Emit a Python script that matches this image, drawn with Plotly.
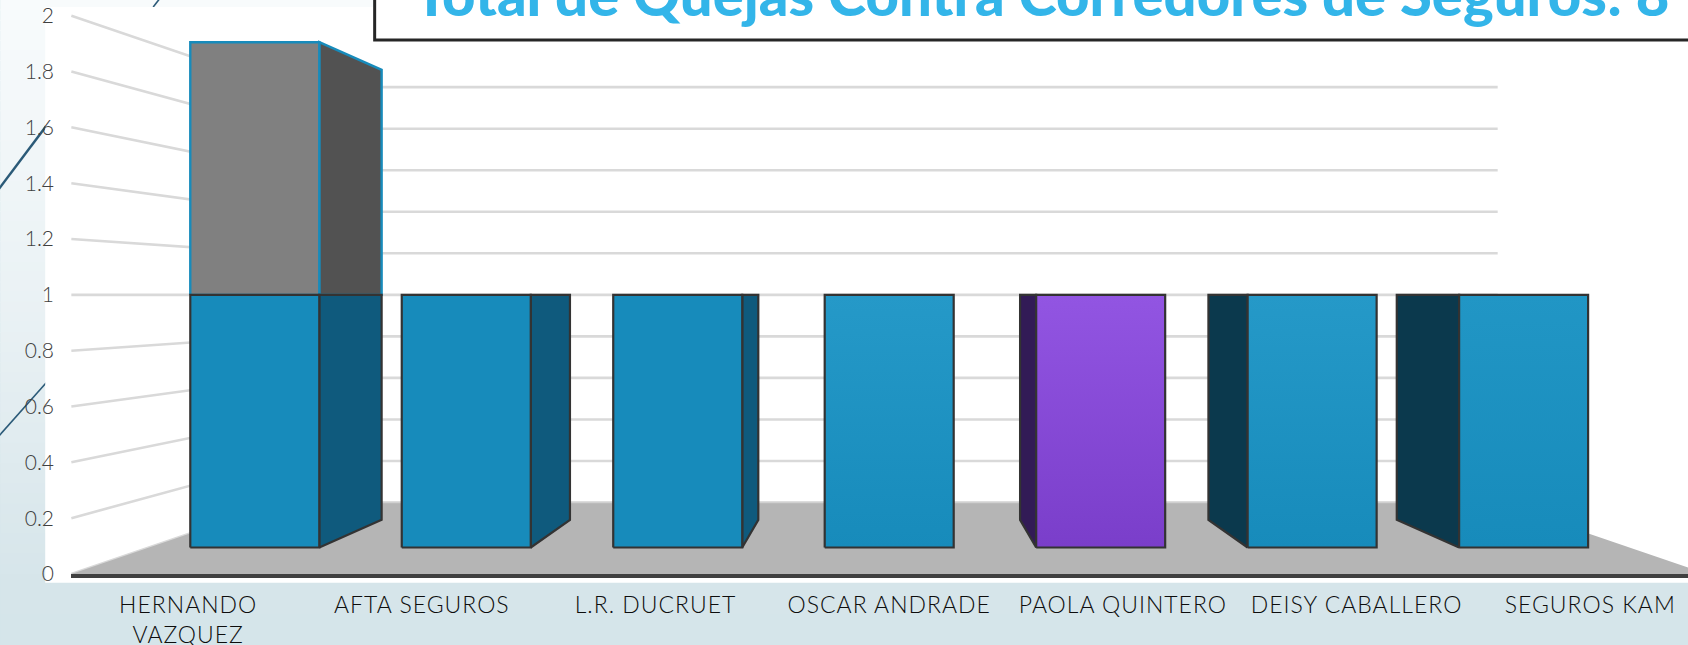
import plotly.graph_objects as go

# ---------- data ----------
categories = ["HERNANDO<br>VAZQUEZ", "AFTA SEGUROS", "L.R. DUCRUET", "OSCAR ANDRADE",
              "PAOLA QUINTERO", "DEISY CABALLERO", "SEGUROS KAM"]
quejas = [1, 1, 1, 1, 1, 1, 1]
quejas_extra = [1, 0, 0, 0, 0, 0, 0]
value_ticks = [0, 0.2, 0.4, 0.6, 0.8, 1, 1.2, 1.4, 1.6, 1.8, 2]
value_tick_labels = ["0", "0.2", "0.4", "0.6", "0.8", "1", "1.2", "1.4", "1.6", "1.8", "2"]
title_text = "Total de Quejas Contra Corredores de Seguros: 8"

# ---------- page / plot geometry ----------
W, H = 1688, 645
PLOT_L, PLOT_B_PX = 70.8, 574.3
PX_PER_CAT, PX_PER_VAL = 233.7, 279.3
CAT0_PX = 188.0
x_range = [(PLOT_L - CAT0_PX) / PX_PER_CAT, (W - CAT0_PX) / PX_PER_CAT]
y_range = [0, PLOT_B_PX / PX_PER_VAL]

# ---------- 3D projection onto the axis plane ----------
VP_X, VP_Y = 3.0, 1.0       # vanishing point (category, value)
S_WALL, S_FRONT, S_BACK = 0.744, 0.905, 0.806   # depth scale factors
HALF = 0.305                # half a bar, in category units
X_MIN, X_MAX = -0.5, 6.5


def proj(x, v, s):
    return VP_X + s * (x - VP_X), VP_Y + s * (v - VP_Y)


def poly(points):
    xs, ys = zip(*points)
    return list(xs) + [xs[0]], list(ys) + [ys[0]]


def face(points, fill, line, lw=2.0, grad=None):
    xs, ys = poly(points)
    tr = dict(x=xs, y=ys, mode="lines", fill="toself", hoverinfo="skip", showlegend=False,
              line=dict(color=line, width=lw))
    if grad:
        tr["fillgradient"] = dict(type="vertical", colorscale=[[0, grad[1]], [1, grad[0]]])
    else:
        tr["fillcolor"] = fill
    return go.Scatter(**tr)


fig = go.Figure()

# side wall + back wall gridlines
for v in value_ticks:
    pts = [proj(X_MIN, v, 1), proj(X_MIN, v, S_WALL), proj(X_MAX, v, S_WALL)]
    if v == 1:
        pts = [proj(X_MIN, v, 1), proj(X_MAX, v, S_WALL)]
    xs, ys = zip(*pts)
    fig.add_trace(go.Scatter(x=xs, y=ys, mode="lines", hoverinfo="skip", showlegend=False,
                             line=dict(color="#D9D9D9", width=2.6)))

# floor
fig.add_trace(face([proj(X_MIN, 0, 1), proj(X_MIN, 0, S_WALL), proj(X_MAX, 0, S_WALL), proj(X_MAX, 0, 1)],
                   "#B5B5B5", "rgba(0,0,0,0)", 0))
xs, ys = zip(proj(X_MIN, 0, S_WALL), proj(X_MAX, 0, S_WALL))
fig.add_trace(go.Scatter(x=xs, y=ys, mode="lines", hoverinfo="skip", showlegend=False,
                         line=dict(color="#D0D0D0", width=1.5)))

BLUE = "#178BBB"
front_grad = [None, None, None, ("#2599C8", "#178BBB"), ("#9255E2", "#7A3ECA"),
              ("#2599C8", "#178BBB"), ("#2196C5", "#178BBB")]
front_col = [BLUE, BLUE, BLUE, BLUE, "#8549D6", BLUE, BLUE]
side_col = ["#0F5A7D", "#0F5A7D", "#0F5A7D", None, "#321B56", "#0B394D", "#0B394D"]


def draw_block(i, v0, v1, front, side, line, lw=2.0, grad=None):
    left, right = i - HALF, i + HALF
    if right < VP_X:
        fig.add_trace(face([proj(right, v0, S_FRONT), proj(right, v0, S_BACK),
                            proj(right, v1, S_BACK), proj(right, v1, S_FRONT)], side, line, lw))
    elif left > VP_X:
        fig.add_trace(face([proj(left, v0, S_FRONT), proj(left, v0, S_BACK),
                            proj(left, v1, S_BACK), proj(left, v1, S_FRONT)], side, line, lw))
    fig.add_trace(face([proj(left, v0, S_FRONT), proj(right, v0, S_FRONT),
                        proj(right, v1, S_FRONT), proj(left, v1, S_FRONT)], front, line, lw, grad))


for i, (a, b) in enumerate(zip(quejas, quejas_extra)):
    if b:
        draw_block(i, a, a + b, "#808080", "#525252", "#178BBB", 2.4)
    draw_block(i, 0, a, front_col[i], side_col[i], "#333333", 2.2, front_grad[i])

# ---------- background shapes ----------
shapes = []


def px_x(p):
    return (p - PLOT_L) / (W - PLOT_L)


def px_y(p):
    return (PLOT_B_PX - p) / PLOT_B_PX


bg_stops = [(0, (248, 251, 252)), (320, (233, 241, 244)), (585, (214, 229, 234)), (645, (213, 229, 234))]


def bg_at(y):
    for (y0, c0), (y1, c1) in zip(bg_stops, bg_stops[1:]):
        if y <= y1:
            t = (y - y0) / (y1 - y0)
            return tuple(round(a + t * (b - a)) for a, b in zip(c0, c1))
    return bg_stops[-1][1]


N = 64
for k in range(N):
    y0, y1 = k * H / N, (k + 1) * H / N
    r, g, b = bg_at((y0 + y1) / 2)
    shapes.append(dict(type="rect", xref="paper", yref="paper", layer="below",
                       x0=px_x(0), x1=px_x(W), y0=px_y(y0 - 0.5), y1=px_y(y1 + 0.5),
                       fillcolor=f"rgb({r},{g},{b})", line_width=0))


def seg(x0, y0, x1, y1, w):
    shapes.append(dict(type="line", xref="paper", yref="paper", layer="below",
                       x0=px_x(x0), x1=px_x(x1), y0=px_y(y0), y1=px_y(y1),
                       line=dict(color="#2B5A78", width=w)))


seg(-2, 190, 46, 126, 2.5)
seg(-2, 437, 46, 383, 1.6)
seg(153, 7, 160, -2, 1.6)

# white panel behind the chart
shapes.append(dict(type="rect", xref="paper", yref="paper", layer="below",
                   x0=px_x(45), x1=px_x(W + 5), y0=px_y(583), y1=px_y(7),
                   fillcolor="#FFFFFF", line_width=0))
# title box, running off the page
shapes.append(dict(type="rect", xref="paper", yref="paper", layer="above",
                   x0=px_x(374.5), x1=px_x(W + 20), y0=px_y(40), y1=px_y(-20),
                   fillcolor="#FFFFFF", line=dict(color="#262626", width=3)))

fig.update_layout(
    width=W, height=H,
    margin=dict(l=PLOT_L, r=0, t=0, b=H - PLOT_B_PX, pad=0, autoexpand=False),
    paper_bgcolor="#D5E5EA", plot_bgcolor="rgba(0,0,0,0)",
    showlegend=False, shapes=shapes,
    font=dict(family="Lato, sans-serif"),
    title=dict(text=title_text, xref="container", yref="container",
               x=414 / W, xanchor="left", y=1 - 16 / H, yanchor="bottom",
               font=dict(family="Lato, sans-serif", size=58, color="#33B5E9", weight=900)),
    xaxis=dict(range=x_range, tickmode="array", tickvals=list(range(len(categories))),
               ticktext=categories, showgrid=False, zeroline=False,
               showline=True, linecolor="#404040", linewidth=4,
               ticks="", ticklabelstandoff=7,
               tickfont=dict(family="Lato, sans-serif", size=23, color="#0D0D0D", weight=300)),
    yaxis=dict(range=y_range, tickmode="array", tickvals=value_ticks, ticktext=value_tick_labels,
               showgrid=False, zeroline=False, showline=False, ticks="",
               ticklabelstandoff=16,
               tickfont=dict(family="Lato, sans-serif", size=21, color="#404040", weight=300)),
)

post = """document.body.style.margin='0';document.documentElement.style.overflow='hidden';
var st=document.createElement('style');st.textContent='.xtick text{letter-spacing:1px}';document.head.appendChild(st);"""
fig.write_html("out.html", post_script=post, config={"displayModeBar": False})
